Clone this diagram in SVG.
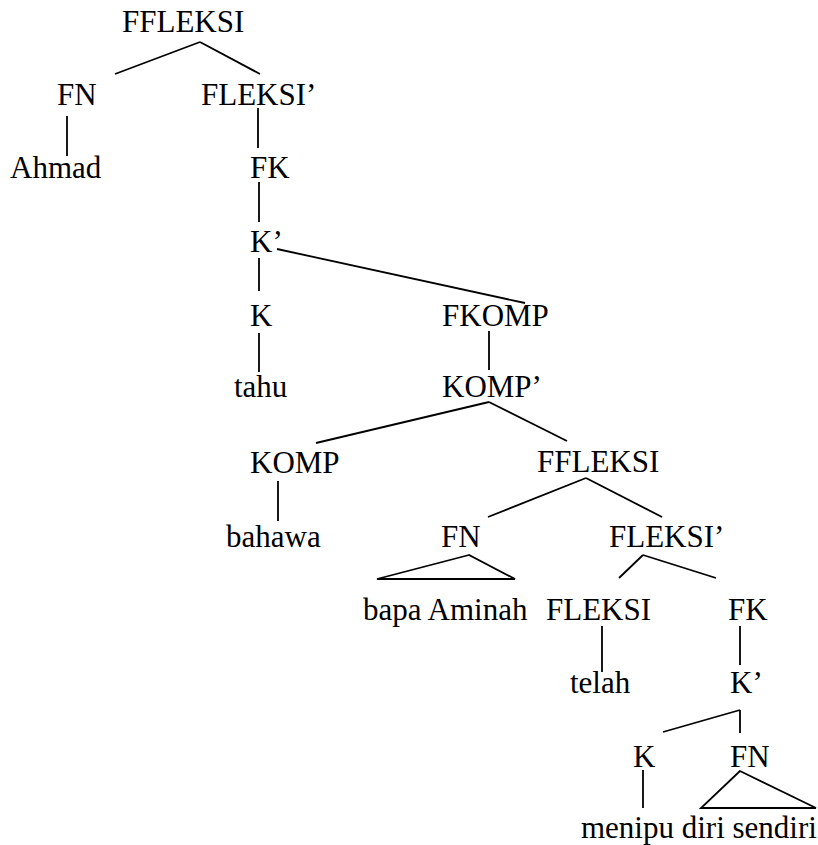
<svg xmlns="http://www.w3.org/2000/svg" width="818" height="845" viewBox="0 0 818 845">
<style>
text { font-family: "Liberation Serif", "Times New Roman", serif; font-size: 31px; fill: #000; }
.e { stroke: #000; stroke-width: 1.8; fill: none; stroke-linecap: butt; }
</style>
<rect width="818" height="845" fill="#fff"/>
<g id="connectors">
<line class="e" x1="200" y1="42" x2="115" y2="74"/>
<line class="e" x1="200" y1="42" x2="260" y2="74"/>
<line class="e" x1="67" y1="116" x2="67" y2="156"/>
<line class="e" x1="258" y1="108" x2="258" y2="148"/>
<line class="e" x1="259" y1="182" x2="259" y2="222"/>
<line class="e" x1="277" y1="249" x2="525" y2="303"/>
<line class="e" x1="259" y1="258" x2="259" y2="291"/>
<line class="e" x1="259" y1="333" x2="259" y2="372"/>
<line class="e" x1="489" y1="331" x2="489" y2="370"/>
<line class="e" x1="489" y1="402" x2="316" y2="443"/>
<line class="e" x1="489" y1="402" x2="567" y2="441"/>
<line class="e" x1="278" y1="481" x2="278" y2="521"/>
<line class="e" x1="586" y1="478" x2="488" y2="517"/>
<line class="e" x1="586" y1="478" x2="662" y2="517"/>
<polygon class="e" points="469,555 377,579 515,579"/>
<line class="e" x1="643" y1="555" x2="619" y2="578"/>
<line class="e" x1="643" y1="555" x2="716" y2="578"/>
<line class="e" x1="602" y1="626" x2="602" y2="672"/>
<line class="e" x1="740" y1="626" x2="740" y2="665"/>
<line class="e" x1="740" y1="710" x2="663" y2="732"/>
<line class="e" x1="740" y1="710" x2="740" y2="733"/>
<line class="e" x1="643" y1="770" x2="643" y2="808"/>
<polygon class="e" points="740,771 701,808 816,808"/>
</g>
<g id="n-ffleksi1"><text x="122" y="32">FFLEKSI</text></g>
<g id="n-fn1"><text x="57" y="105">FN</text></g>
<g id="n-fleksibar1"><text x="201" y="105">FLEKSI’</text></g>
<g id="n-ahmad"><text x="10" y="178">Ahmad</text></g>
<g id="n-fk1"><text x="250" y="178">FK</text></g>
<g id="n-kbar1"><text x="250" y="252">K’</text></g>
<g id="n-k1"><text x="250" y="326">K</text></g>
<g id="n-tahu"><text x="234" y="397">tahu</text></g>
<g id="n-fkomp"><text x="442" y="326">FKOMP</text></g>
<g id="n-kompbar"><text x="442" y="397">KOMP’</text></g>
<g id="n-komp"><text x="250" y="473">KOMP</text></g>
<g id="n-bahawa"><text x="226" y="547">bahawa</text></g>
<g id="n-ffleksi2"><text x="537" y="472">FFLEKSI</text></g>
<g id="n-fn2"><text x="441" y="547">FN</text></g>
<g id="n-fleksibar2"><text x="609" y="547">FLEKSI’</text></g>
<g id="n-bapa"><text x="363" y="620">bapa Aminah</text></g>
<g id="n-fleksi"><text x="546" y="620">FLEKSI</text></g>
<g id="n-fk2"><text x="728" y="620">FK</text></g>
<g id="n-telah"><text x="570" y="693">telah</text></g>
<g id="n-kbar2"><text x="730" y="693">K’</text></g>
<g id="n-k2"><text x="633" y="767">K</text></g>
<g id="n-fn3"><text x="730" y="767">FN</text></g>
<g id="n-menipu"><text x="581" y="838">menipu diri sendiri</text></g>
</svg>
